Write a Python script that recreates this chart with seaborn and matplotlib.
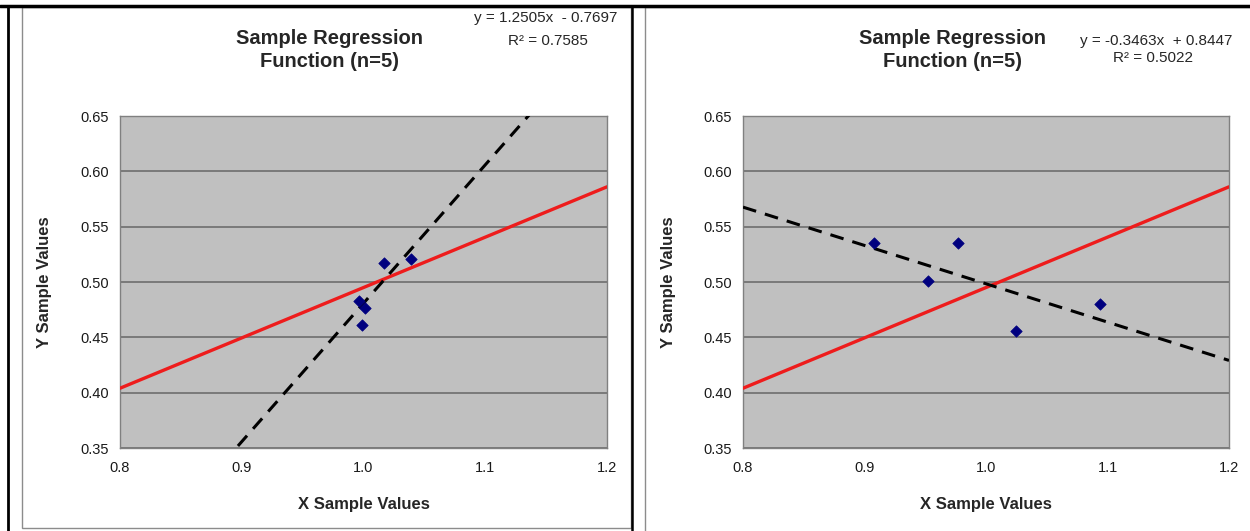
import numpy as np
import pandas as pd
import matplotlib
matplotlib.use("Agg")
import matplotlib.pyplot as plt
import seaborn as sns
from matplotlib.lines import Line2D
from matplotlib.patches import Rectangle

# ---------------- data ----------------
x_left = [1.017, 1.039, 0.996, 1.001, 0.9985]
y_left = [0.5175, 0.5208, 0.4825, 0.4769, 0.4611]
x_right = [0.908, 0.977, 0.952, 1.025, 1.094]
y_right = [0.535, 0.535, 0.501, 0.4555, 0.480]

pop_x = [0.8, 1.2]
pop_y = [0.404, 0.586]

slopes = [1.2505, -0.3463]
intercepts = [-0.7697, 0.8447]
eq_labels = ["y = 1.2505x  - 0.7697", "y = -0.3463x  + 0.8447"]
r2_labels = ["R² = 0.7585", "R² = 0.5022"]
title = "Sample Regression\nFunction (n=5)"
x_label = "X Sample Values"
y_label = "Y Sample Values"
x_ticks = [0.8, 0.9, 1.0, 1.1, 1.2]
x_ticklabels = ["0.8", "0.9", "1.0", "1.1", "1.2"]
y_ticks = [0.35, 0.40, 0.45, 0.50, 0.55, 0.60, 0.65]
y_ticklabels = ["0.35", "0.40", "0.45", "0.50", "0.55", "0.60", "0.65"]

# ---------------- style ----------------
sns.set_style("white")
plt.rcParams['font.family'] = ['Liberation Sans', 'DejaVu Sans']

W, H = 1250, 531
fig = plt.figure(figsize=(W / 100, H / 100), dpi=100)
fig.patch.set_facecolor("white")

def fx(px):
    return px / W

def fy(py):
    return 1 - py / H

# decorative frames (table borders and chart frames)
fig.add_artist(Rectangle((fx(22), fy(528)), fx(631 - 22), (528 - 7) / H,
                         fill=False, edgecolor="#8c8c8c", linewidth=1.0,
                         transform=fig.transFigure))
fig.add_artist(Rectangle((fx(645), fy(540)), fx(1260 - 645), (540 - 7) / H,
                         fill=False, edgecolor="#8c8c8c", linewidth=1.0,
                         transform=fig.transFigure))
fig.add_artist(Line2D([0, 1], [fy(6), fy(6)], color="black", linewidth=2.5,
                      transform=fig.transFigure))
fig.add_artist(Line2D([fx(8), fx(8)], [fy(6), 0], color="black", linewidth=2.0,
                      transform=fig.transFigure))
fig.add_artist(Line2D([fx(632), fx(632)], [fy(6), 0], color="black", linewidth=1.8,
                      transform=fig.transFigure))

panels = [
    dict(x=x_left, y=y_left, ax_left=120, ax_right=607, title_cx=329,
         eq_pos=(546, 18), r2_pos=(548, 41), ylab_x=52),
    dict(x=x_right, y=y_right, ax_left=743, ax_right=1229, title_cx=952,
         eq_pos=(1156, 41), r2_pos=(1153, 58), ylab_x=676),
]

ax_top, ax_bot = 116, 448

for i, p in enumerate(panels):
    ax = fig.add_axes([fx(p['ax_left']), fy(ax_bot),
                       fx(p['ax_right'] - p['ax_left']), (ax_bot - ax_top) / H])
    ax.set_facecolor("#c0c0c0")
    ax.set_xlim(0.8, 1.2)
    ax.set_ylim(0.35, 0.65)

    ax.set_yticks(y_ticks)
    ax.set_yticklabels(y_ticklabels)
    ax.set_xticks(x_ticks)
    ax.set_xticklabels(x_ticklabels)
    ax.yaxis.grid(True, color="#7a7a7a", linewidth=1.4)
    ax.xaxis.grid(False)
    ax.set_axisbelow(True)

    # population regression line (red)
    sns.lineplot(x=pop_x, y=pop_y, ax=ax, color="#ee1c1c", linewidth=2.4,
                 zorder=3)

    # sample regression line (dashed black)
    xs = np.array([0.8, 1.2])
    ys = slopes[i] * xs + intercepts[i]
    sns.lineplot(x=xs, y=ys, ax=ax, color="black", linewidth=2.2,
                 linestyle=(0, (4.5, 3)), zorder=3)

    # sample points
    sns.scatterplot(x=p['x'], y=p['y'], ax=ax, marker="D", s=34,
                    color="#00007f", edgecolor="#00007f", linewidth=0.5,
                    zorder=4)

    for s in ax.spines.values():
        s.set_visible(True)
        s.set_color("#808080")
        s.set_linewidth(1.0)

    ax.tick_params(axis='both', which='both', direction='out', length=5,
                   width=1, color="#808080", labelsize=10.5, labelcolor="#1a1a1a")
    ax.tick_params(axis='y', pad=3)
    ax.tick_params(axis='x', pad=4)

    ax.set_xlabel(x_label, fontsize=12, fontweight="bold")
    ax.set_ylabel(y_label, fontsize=12, fontweight="bold")
    ax.xaxis.set_label_coords(0.5, (ax_bot - 497) / (ax_bot - ax_top))
    ax.yaxis.set_label_coords((p['ylab_x'] - p['ax_left']) / (p['ax_right'] - p['ax_left']), 0.5)

    fig.text(fx(p['title_cx']), fy(50), title, ha="center", va="center",
             fontsize=14.5, fontweight="bold", linespacing=1.25,
             multialignment="center")
    fig.text(fx(p['eq_pos'][0]), fy(p['eq_pos'][1]), eq_labels[i],
             ha="center", va="center", fontsize=11)
    fig.text(fx(p['r2_pos'][0]), fy(p['r2_pos'][1]), r2_labels[i],
             ha="center", va="center", fontsize=11)

fig.savefig("out.png", dpi=100, facecolor="white")
